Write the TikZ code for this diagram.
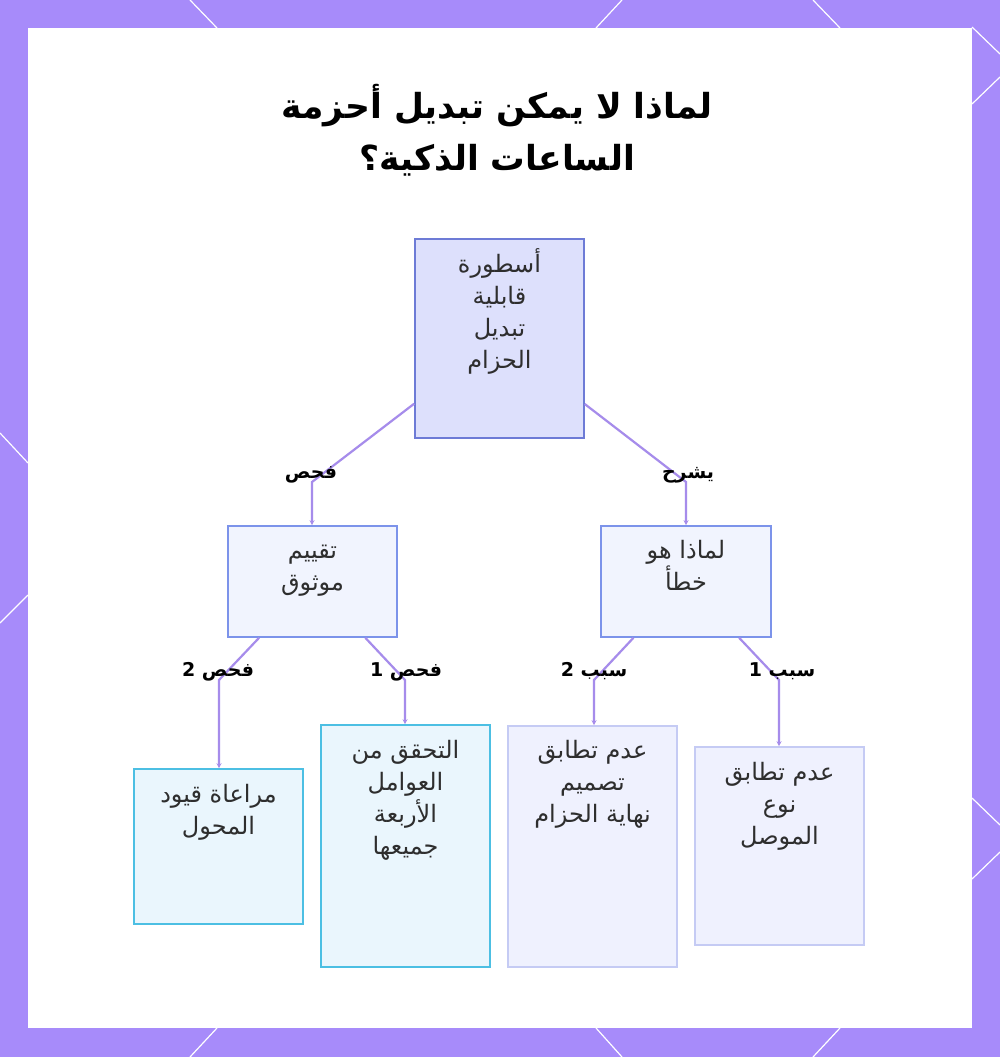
\documentclass[tikz,border=0pt]{standalone}
\usepackage{fontspec}
\usepackage{tikz}
\usetikzlibrary{positioning, arrows.meta}
\TeXXeTstate=1
\newfontfamily\arabicfont[Script=Arabic]{DejaVu Sans}
\newcommand{\artxt}[1]{\beginR #1\endR}
\definecolor{framec}{HTML}{A78BFA}
\definecolor{rootfill}{HTML}{DDE0FC}
\definecolor{rootline}{HTML}{6D7BD6}
\definecolor{midfill}{HTML}{F1F4FE}
\definecolor{midline}{HTML}{7C93EA}
\definecolor{cyanfill}{HTML}{EAF6FD}
\definecolor{cyanline}{HTML}{4CBFE3}
\definecolor{lavfill}{HTML}{EFF1FE}
\definecolor{lavline}{HTML}{C5CBF4}
\definecolor{linkc}{HTML}{A68CEB}
\definecolor{inkc}{HTML}{2E2E2E}
\tikzset{>={Stealth[length=5pt,width=5pt]},
  mythbox/.style={draw=rootline, fill=rootfill, line width=1.6pt, inner sep=0pt, minimum width=169pt},
  reasonbox/.style={draw=midline, fill=midfill, line width=1.6pt, inner sep=0pt, minimum width=169pt, minimum height=111pt},
  checkbox/.style={draw=cyanline, fill=cyanfill, line width=1.6pt, inner sep=0pt, minimum width=169pt},
  causebox/.style={draw=lavline, fill=lavfill, line width=1.6pt, inner sep=0pt, minimum width=169pt},
  boxtext/.style={anchor=base, align=center, inner sep=0pt, text=inkc, font=\arabicfont\fontsize{24}{32}\selectfont},
  linklabel/.style={anchor=base, inner sep=1pt, text=black, font=\arabicfont\bfseries\fontsize{19}{20}\selectfont},
  link/.style={->, draw=linkc, line width=2.2pt},
}
\begin{document}
\begin{tikzpicture}[x=1pt, y=-1pt]
	\useasboundingbox (0,0) rectangle (1000,1057);
	% frame
	\fill[framec] (0,0) rectangle (1000,1057);
	\fill[white] (28,28) rectangle (972,1028);
	\draw[white, line width=1.2pt] (190,0) -- (217,28) (622,0) -- (596,28) (813,0) -- (840,28);
	\draw[white, line width=1.2pt] (190,1057) -- (217,1028) (622,1057) -- (596,1028) (813,1057) -- (840,1028);
	\draw[white, line width=1.2pt] (0,433) -- (28,463) (0,623) -- (28,595);
	\draw[white, line width=1.2pt] (1000,54) -- (972,27) (1000,77) -- (972,104) (1000,825) -- (972,798) (1000,852) -- (972,879);

	% title (base = last line)
	\node[anchor=base, align=center, inner sep=0pt, text=black, font=\arabicfont\bfseries\fontsize{34.5}{52}\selectfont] (title) at (497,170)
		{\artxt{لماذا لا يمكن تبديل أحزمة}\\\artxt{الساعات الذكية؟}};

	% boxes
	\node[mythbox, minimum height=199pt] (root) at (499.5,338.5) {};
	\node[reasonbox] (check) at (312.5,581.5) {};
	\node[reasonbox, minimum width=170pt] (why) at (686,581.5) {};
	\node[checkbox, minimum height=155pt] (adapter) at (218.5,846.5) {};
	\node[checkbox, minimum height=242pt] (factors) at (405.5,846) {};
	\node[causebox, minimum height=241pt] (design) at (592.5,846.5) {};
	\node[causebox, minimum height=198pt] (connector) at (779.5,846) {};

	% box texts, placed by the baseline of their last line
	\node[boxtext] (rootText) at ([yshift=-130pt]root.north) {\artxt{أسطورة}\\\artxt{قابلية}\\\artxt{تبديل}\\\artxt{الحزام}};
	\node[boxtext] (checkText) at ([yshift=-65pt]check.north) {\artxt{تقييم}\\\artxt{موثوق}};
	\node[boxtext] (whyText) at ([yshift=-65pt]why.north) {\artxt{لماذا هو}\\\artxt{خطأ}};
	\node[boxtext] (adapterText) at ([yshift=-66pt]adapter.north) {\artxt{مراعاة قيود}\\\artxt{المحول}};
	\node[boxtext] (factorsText) at ([yshift=-130pt]factors.north) {\artxt{التحقق من}\\\artxt{العوامل}\\\artxt{الأربعة}\\\artxt{جميعها}};
	\node[boxtext] (designText) at ([yshift=-97pt]design.north) {\artxt{عدم تطابق}\\\artxt{تصميم}\\\artxt{نهاية الحزام}};
	\node[boxtext] (connectorText) at ([yshift=-98pt]connector.north) {\artxt{عدم تطابق}\\\artxt{نوع}\\\artxt{الموصل}};

	% bends of the links
	\coordinate (bendCheck) at (312,482);
	\coordinate (bendWhy) at (686,482);
	\coordinate (bendAdapter) at (219,680);
	\coordinate (bendFactors) at (405,680);
	\coordinate (bendDesign) at (594,680);
	\coordinate (bendConnector) at (779,680);

	% links
	\draw[link] (root) -- (bendCheck) -- (bendCheck |- check.north);
	\draw[link] (root) -- (bendWhy) -- (bendWhy |- why.north);
	\draw[link] (check) -- (bendAdapter) -- (bendAdapter |- adapter.north);
	\draw[link] (check) -- (bendFactors) -- (bendFactors |- factors.north);
	\draw[link] (why) -- (bendDesign) -- (bendDesign |- design.north);
	\draw[link] (why) -- (bendConnector) -- (bendConnector |- connector.north);

	% link labels
	\node[linklabel] (lblCheck) at (311,478) {\artxt{فحص}};
	\node[linklabel] (lblWhy) at (688,478) {\artxt{يشرح}};
	\node[linklabel] (lblAdapter) at (218,676) {\artxt{فحص 2}};
	\node[linklabel] (lblFactors) at (406,676) {\artxt{فحص 1}};
	\node[linklabel] (lblDesign) at (594,676) {\artxt{سبب 2}};
	\node[linklabel] (lblConnector) at (782,676) {\artxt{سبب 1}};
\end{tikzpicture}
\end{document}
